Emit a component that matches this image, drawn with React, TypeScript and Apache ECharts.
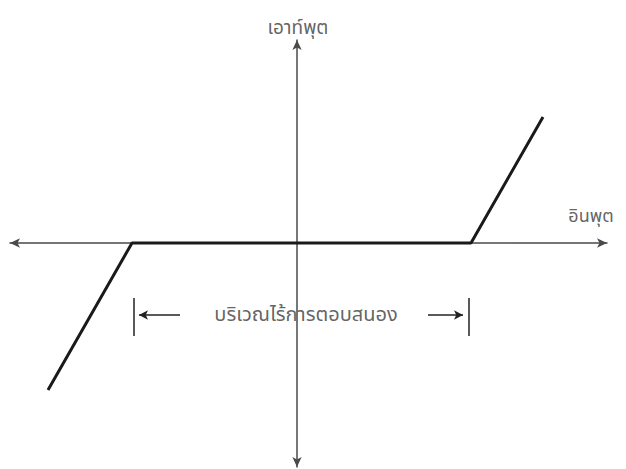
import React, { useEffect, useRef } from "react";
import * as echarts from "echarts";

// Axis extents (data units)
const xRange = [-28.7, 31.0];
const yRange = [-22.4, 20.3];

// Dead-zone characteristic (input, output)
const deadZoneCurve: [number, number][] = [
  [-24.9, -14.7],
  [-16.5, 0],
  [17.4, 0],
  [24.6, 12.6],
];

// Dead-zone annotation
const bracketX = [-16.3, 17.2];
const bracketY = [-5.5, -9.3];
const arrowY = -7.2;
const leftArrow = [-11.7, -15.8];
const rightArrow = [13.1, 16.6];

// Texts
const outputLabel = { text: "เอาท์พุต", pos: [0.1, 21.5] };
const inputLabel = { text: "อินพุต", pos: [29.4, 2.7] };
const deadZoneLabel = { text: "บริเวณไร้การตอบสนอง", pos: [0.9, -7.2] };

const thaiFont = "'Noto Sans Thai', 'Noto Serif Thai', 'Loma', 'Garuda', 'Norasi', 'TlwgTypo', 'DejaVu Sans', sans-serif";

export default function App() {
  const ref = useRef<HTMLDivElement>(null);
  useEffect(() => {
    if (!ref.current) return;
    const chart = echarts.init(ref.current, undefined, { renderer: "svg" });
    const axisCommon = {
      type: "value" as const,
      axisLine: {
        show: true,
        onZero: true,
        symbol: ["arrow", "arrow"],
        symbolSize: [7, 10],
        lineStyle: { color: "#4a4a4a", width: 1.5 },
      },
      axisTick: { show: false },
      axisLabel: { show: false },
      splitLine: { show: false },
    };
    const textLabel = (t: string, size: number) => ({
      show: true,
      position: "inside" as const,
      formatter: t,
      color: "#3a3a3a",
      fontSize: size,
      fontFamily: thaiFont,
    });
    chart.setOption({
      animation: false,
      backgroundColor: "#fff",
      grid: { left: 10, right: 19, top: 40, bottom: 2, containLabel: false },
      xAxis: { ...axisCommon, min: xRange[0], max: xRange[1] },
      yAxis: { ...axisCommon, min: yRange[0], max: yRange[1] },
      series: [
        {
          type: "line",
          data: deadZoneCurve,
          symbol: "none",
          lineStyle: { color: "#1a1a1a", width: 3 },
          z: 5,
        },
        {
          type: "line",
          data: [],
          symbol: "none",
          markLine: {
            silent: true,
            animation: false,
            label: { show: false },
            lineStyle: { color: "#222", width: 1.5, type: "solid" },
            symbol: ["none", "none"],
            data: [
              [
                { coord: [bracketX[0], bracketY[0]] },
                { coord: [bracketX[0], bracketY[1]] },
              ],
              [
                { coord: [bracketX[1], bracketY[0]] },
                { coord: [bracketX[1], bracketY[1]] },
              ],
              [
                { coord: [leftArrow[0], arrowY], symbol: "none" },
                { coord: [leftArrow[1], arrowY], symbol: "arrow", symbolSize: [7, 9] },
              ],
              [
                { coord: [rightArrow[0], arrowY], symbol: "none" },
                { coord: [rightArrow[1], arrowY], symbol: "arrow", symbolSize: [7, 9] },
              ],
            ],
          },
        },
        {
          type: "scatter",
          symbolSize: 2,
          clip: false,
          itemStyle: { color: "rgba(0,0,0,0)" },
          labelLayout: { hideOverlap: false },
          data: [
            { value: outputLabel.pos, label: textLabel(outputLabel.text, 19) },
            { value: inputLabel.pos, label: textLabel(inputLabel.text, 18) },
            { value: deadZoneLabel.pos, label: textLabel(deadZoneLabel.text, 20) },
          ],
        },
      ],
    });
    return () => chart.dispose();
  }, []);
  return (
    <div
      ref={ref}
      style={{ position: "fixed", left: 0, top: 0, width: 626, height: 469, background: "#fff" }}
    />
  );
}
